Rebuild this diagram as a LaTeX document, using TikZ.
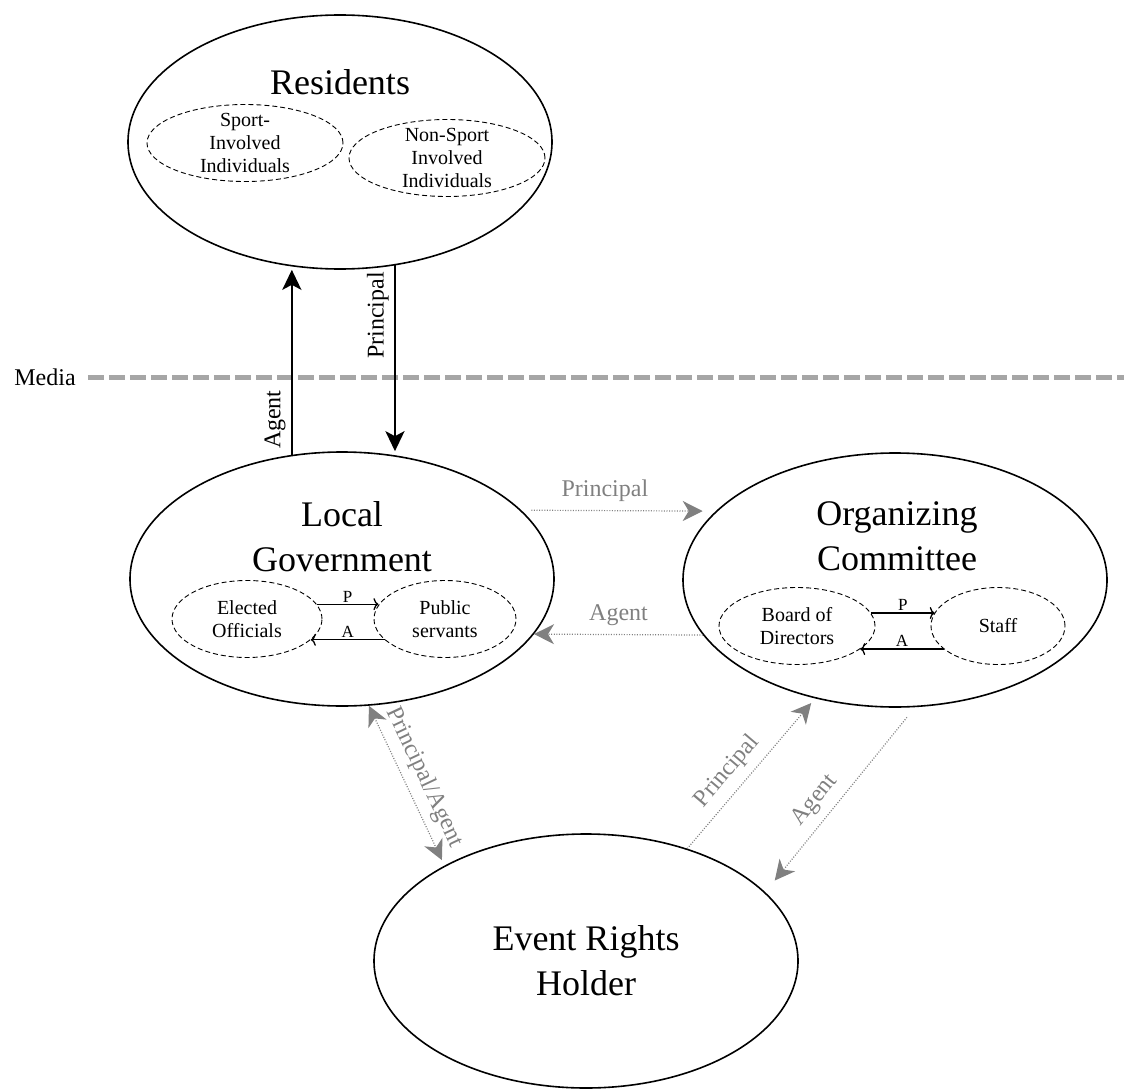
\documentclass[tikz,border=0pt]{standalone}
\usepackage{fontspec}
\setmainfont{Liberation Serif}
\usetikzlibrary{shapes.geometric,arrows.meta}
\definecolor{gris}{RGB}{128,128,128}
\definecolor{grisclair}{RGB}{166,166,166}

\begin{document}
\begin{tikzpicture}[x=1pt,y=-1pt]
			% Styles
			\tikzstyle{acteur}=[ellipse,draw,line width=1.6pt,inner sep=0pt,minimum width=\LargeurActeur,minimum height=\HauteurActeur]
			\tikzstyle{groupe}=[ellipse,draw,dash pattern=on 5pt off 3pt,line width=0.9pt,inner sep=0pt,inner ysep=-5pt,minimum height=77pt,align=center,font=\fontsize{20}{23}\selectfont]
			\tikzstyle{titre}=[align=center,inner sep=0pt,font=\fontsize{36}{45}\selectfont]
			\tikzstyle{fleche}=[-{Stealth[length=20pt,width=19pt,inset=5pt]},line width=2.6pt]
			\tikzstyle{lien}=[gris,line width=1.2pt,dash pattern=on 1pt off 1.6pt]
			\tikzstyle{pointe}=[-{Stealth[length=20pt,width=20pt,inset=6pt]}]
			\tikzstyle{relation}=[-{To[length=5pt,width=12pt]},line width=1.3pt]
			\tikzstyle{etiquette}=[font=\fontsize{24}{28}\selectfont,inner sep=5pt]
			\tikzstyle{etiquettegrise}=[etiquette,gris,inner sep=8pt]
			\tikzstyle{lettre}=[font=\fontsize{17}{20}\selectfont,inner sep=1.5pt]
			\tikzstyle{media}=[grisclair,line width=5pt,dash pattern=on 16pt off 5pt]
			% Dimensions
			\def\LargeurActeur{424pt}
			\def\HauteurActeur{254pt}
			\useasboundingbox (0,0) rectangle (1124,1089);
			% Noeuds
			\node[acteur] (RES) at (340,142) {};
			\node[titre,anchor=base] (RESt) at (340,95) {Residents};
			\node[groupe,minimum width=196pt] (SI) at (245,143) {Sport-\\Involved\\Individuals};
			\node[groupe,minimum width=196pt] (NS) at (447,158) {Non-Sport\\Involved\\Individuals};
			%
			\node[acteur] (LG) at (342,579) {};
			\node[titre,anchor=north] (LGt) at (342,501) {Local\\Government};
			\node[groupe,minimum width=150pt] (EO) at (247,619) {Elected\\Officials};
			\node[groupe,minimum width=142pt] (PS) at (445,619) {Public\\servants};
			%
			\node[acteur] (OC) at (895,580) {};
			\node[titre,anchor=north] (OCt) at (897,501) {Organizing\\Committee};
			\node[groupe,minimum width=156pt] (BD) at (797,626) {Board of\\Directors};
			\node[groupe,minimum width=134pt] (ST) at (998,626) {Staff};
			%
			\node[acteur,titre] (ERH) at (586,961) {Event Rights\\Holder};
			%
			\node[etiquette,inner sep=0pt] (Media) at (45,377) {Media};
			\coordinate (MediaFin) at (1124,377);
			% Arcs
			\draw[media,shorten <=12pt] (Media.east) -- (MediaFin);
			\draw[fleche] (LG.112) -- (LG.112 |- RES.south) node[etiquette,pos=0.19,rotate=90,anchor=south]{Agent};
			\draw[fleche] (RES.294) -- (RES.294 |- LG.north) node[etiquette,pos=0.27,rotate=90,anchor=south]{Principal};
			%
			\draw[relation] (EO.12) -- (EO.12 -| PS.168) node[lettre,midway,above]{P};
			\draw[relation] (PS.199) -- (PS.199 -| EO.342) node[lettre,midway,above]{A};
			\draw[relation] (BD.10) -- (BD.10 -| ST.168) node[lettre,midway,above]{P};
			\draw[relation] (ST.203) -- (ST.203 -| BD.340) node[lettre,midway,above]{A};
			%
			\draw[lien,pointe,shorten <=10pt,shorten >=13pt] (LG.21) -- (OC.159) node[etiquettegrise,pos=0.43,above]{Principal};
			\draw[lien,pointe] (OC.196) -- (LG.344) node[etiquettegrise,midway,above]{Agent};
			\draw[lien,{Stealth[length=20pt,width=20pt,inset=6pt]}-{Stealth[length=20pt,width=20pt,inset=6pt]},shorten >=6pt] (LG.282) -- (ERH.146) node[etiquettegrise,midway,sloped,above]{Principal/Agent};
			\draw[lien,pointe,shorten >=6pt] (ERH.48) -- (OC.236) node[etiquettegrise,pos=0.43,sloped,above]{Principal};
			\draw[lien,pointe,shorten <=13pt,shorten >=15pt] (OC.279) -- (ERH.21) node[etiquettegrise,pos=0.57,sloped,above]{Agent};
\end{tikzpicture}
\end{document}
